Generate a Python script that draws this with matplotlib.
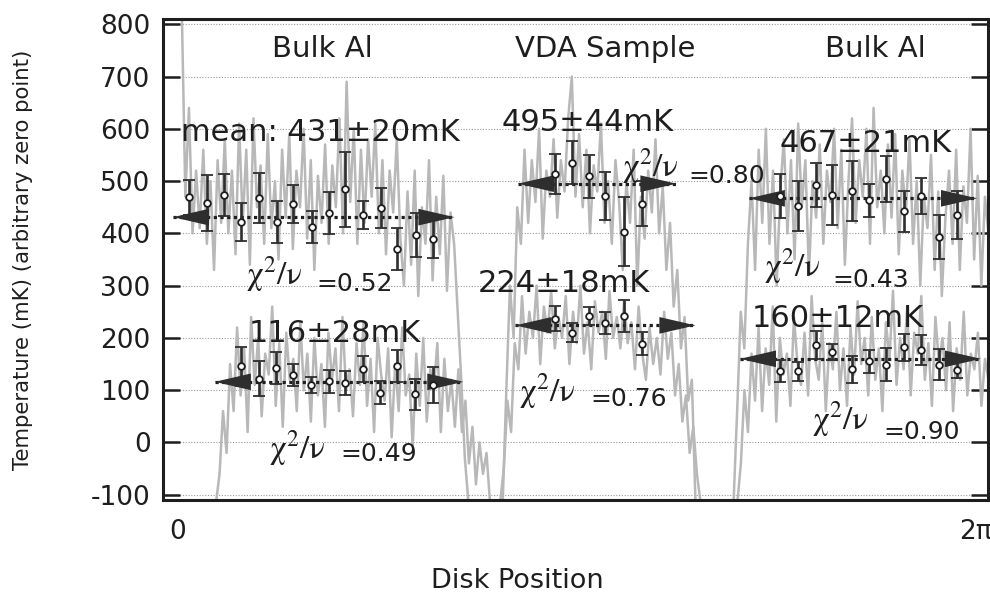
import numpy as np
import matplotlib.pyplot as plt

plt.rcParams['font.family'] = 'DejaVu Sans'
plt.rcParams['mathtext.fontset'] = 'stix'
plt.rcParams['axes.unicode_minus'] = False

# raw thermometer readings (mK) for each pass, sampled evenly over the given span of disk angle
trace_a_span = (0.03, 2.29)
trace_a = [830, 470, 640, 400,
           520, 410, 560, 380, 500, 330, 540, 420, 580, 400, 520,
           360, 610, 420, 560, 340, 620, 450, 530, 380, 590, 410, 500, 350, 560,
           430, 590, 370, 520, 450, 600, 390, 540, 330, 510, 420, 570, 380, 530,
           450, 620, 400, 690, 460, 600, 380, 560,
           420, 580, 470, 610, 400, 540, 360, 520, 440, 580, 390,
           300, 480, 340, 520, 280, 450, 380, 540, 310, 470, 360, 510, 290, 440, 380,
           250, 120, -30, -115]
trace_b_span = (0.30, 2.46)
trace_b = [-115, -60, 60, -20, 150,
           60, 220, 90, 180, 20, 240, 110, 200, 50, 170, 130, 260, 70, 190, 30, 210, 120, 160, 60, 230, 100,
           170, 40, 200, 90, 150, 30, 210, 120, 180, 60, 240, 100, 140, 50, 190, 110, 230, 70, 160, 20, 200, 130,
           80, 180, 10, 150, 60, 220, 90, 130, -10, 170, 70, 200, 40, 140, 100, 190, 20, 160, 60, 120, 30,
           140, 20, 80, -40, 30, -80, 0, -60, -20, -115]
trace_c_span = (2.56, 4.08)
trace_c = [-115, 100, 300, 200, 450, 380,
           560, 420, 540, 460, 600, 390, 520, 470, 580, 430, 540, 480, 620,
           700, 470, 590,
           450, 560, 400, 530, 480, 610, 420, 500, 380, 540, 460,
           330, 500, 420, 560, 300, 470, 390, 520, 440, 580, 400,
           490, 330, 420, 260, 330, 180, 240, 80, 120, -115]
trace_d_span = (2.54, 4.12)
trace_d = [-115, -50, 80, 20, 190, 140,
           280, 170, 250, 200, 300, 150, 260, 210, 290, 180, 240,
           200, 280, 150, 250, 190, 300, 170, 230, 140, 270, 210, 250, 160, 290, 200, 240, 180,
           270, 190, 230, 140, 260, 170, 120, 220, 150, 200, 130, 250,
           160, 210, 90, 150, 40, 90, -20, 30, -60, -115]
trace_e_span = (4.38, 6.39)
trace_e = [-115, 60, 250, 180, 380,
           500, 330, 560, 420, 600, 380, 520, 300, 480, 580, 400, 540, 350, 610,
           450, 540, 320, 500, 430, 570, 380, 520, 460, 600, 410, 560, 340, 500,
           620, 420, 540, 470, 600, 380, 640, 450, 520, 400, 570, 430, 590, 360,
           520, 440, 580, 380, 500, 300, 470, 410, 550, 330, 480, 280, 430, 520,
           380, 560, 330, 490, 420, 600, 350, 510, 300, 470, 400]
trace_f_span = (4.41, 6.39)
trace_f = [-115, -40, 100, 20, 170,
           80, 220, 60, 180, 110, 260, 40, 200, 130, 170, 70, 240, 150, 110,
           210, 90, 280, 160, 120, 230, 60, 190, 140, 250, 100, 180, 70, 220,
           130, 270, 150, 200, 90, 240, 120, 180, 60, 230, 160, 290, 110, 200,
           140, 260, 90, 210, 170, 280, 120, 190, 70, 240, 150, 200, 100, 230,
           60, 180, 120, 250, 90, 170, 140, 210, 70, 160, 120]

# binned averages with error bars
bulk1_hi_x = [0.09, 0.23, 0.36, 0.50, 0.64, 0.78, 0.91, 1.06, 1.19, 1.32, 1.46, 1.60, 1.73, 1.88, 2.01]
bulk1_hi_t = [469, 458, 474, 422, 468, 421, 456, 412, 439, 484, 435, 449, 370, 396, 390]
bulk1_hi_e = [34, 53, 40, 37, 48, 40, 37, 30, 41, 71, 27, 38, 40, 42, 38]

bulk1_lo_x = [0.50, 0.64, 0.77, 0.91, 1.05, 1.19, 1.32, 1.46, 1.59, 1.73, 1.87, 2.01]
bulk1_lo_t = [146, 122, 142, 130, 110, 117, 114, 140, 95, 146, 92, 110]
bulk1_lo_e = [37, 34, 31, 21, 16, 22, 23, 25, 22, 30, 30, 35]

vda_x = [2.97, 3.11, 3.24, 3.37, 3.52, 3.66]
vda_hi_t = [514, 535, 509, 472, 403, 457]
vda_hi_e = [38, 41, 41, 46, 66, 43]
vda_lo_t = [237, 210, 242, 228, 242, 189]
vda_lo_e = [24, 18, 18, 21, 30, 22]

bulk2_x = [4.75, 4.89, 5.03, 5.16, 5.31, 5.45, 5.58, 5.72, 5.86, 6.00, 6.14]
bulk2_hi_t = [471, 453, 492, 473, 481, 463, 504, 442, 471, 393, 435]
bulk2_hi_e = [42, 48, 42, 57, 57, 31, 44, 39, 34, 42, 46]
bulk2_lo_t = [136, 136, 186, 173, 140, 155, 149, 182, 177, 149, 138]
bulk2_lo_e = [21, 18, 27, 16, 26, 22, 32, 26, 29, 30, 15]

# fitted means, their errors, chi^2/nu and the extent of the mean arrows
means = [431, 116, 495, 224, 467, 160]
mean_errs = [20, 28, 44, 18, 21, 12]
chi2 = [0.52, 0.49, 0.80, 0.76, 0.43, 0.90]
arrow_spans = [(-0.04, 2.18), (0.29, 2.25), (2.68, 3.93), (2.66, 4.08), (4.50, 6.30), (4.43, 6.33)]

# label placement: (x, baseline y) for the mean text, the chi part and the "=value" part
mean_pos = [(0.02, 576, 'left'), (1.24, 193, 'center'), (3.23, 595, 'center'),
            (3.04, 287, 'center'), (5.42, 556, 'center'), (5.20, 220, 'center')]
chi_pos = [(0.54, 302), (0.72, -31), (3.50, 509), (2.69, 78), (4.62, 317), (5.00, 25)]
chi_val_pos = [(1.09, 289), (1.28, -36), (4.02, 497), (3.25, 69), (5.16, 298), (5.56, 6)]

regions = ['Bulk Al', 'VDA Sample', 'Bulk Al']
region_x = [1.135, 3.37, 5.50]

ink = '#1e1e1e'
trace_col = '#b8b8b8'

fig = plt.figure(figsize=(9.9, 5.99), dpi=100)
ax = fig.add_axes([163/990, 99/599, 825/990, 481/599])

for span, vals in [(trace_a_span, trace_a), (trace_b_span, trace_b), (trace_c_span, trace_c),
                   (trace_d_span, trace_d), (trace_e_span, trace_e), (trace_f_span, trace_f)]:
    xs = np.linspace(span[0], span[1], len(vals))
    ax.plot(xs, vals, color=trace_col, lw=1.8, zorder=2)

for m, (x0, x1) in zip(means, arrow_spans):
    ax.plot([x0, x1], [m, m], color=ink, lw=2.3, ls=(0, (1, 1.1)), zorder=4)
    for tip, d in [(x0, -1), (x1, 1)]:
        ax.annotate('', xy=(tip, m), xytext=(tip - d*0.4, m),
                    arrowprops=dict(arrowstyle='-|>,head_length=1.3,head_width=0.3',
                                    color='#2e2e2e', lw=0, shrinkA=0, shrinkB=0,
                                    mutation_scale=20), zorder=5)

for xs, ts, es in [(bulk1_hi_x, bulk1_hi_t, bulk1_hi_e), (bulk1_lo_x, bulk1_lo_t, bulk1_lo_e),
                   (vda_x, vda_hi_t, vda_hi_e), (vda_x, vda_lo_t, vda_lo_e),
                   (bulk2_x, bulk2_hi_t, bulk2_hi_e), (bulk2_x, bulk2_lo_t, bulk2_lo_e)]:
    ax.errorbar(xs, ts, yerr=es, fmt='o', ms=4.8, mfc='white', mec=ink, mew=1.3,
                ecolor='#2e2e2e', elinewidth=1.9, capsize=4.0, capthick=1.9, zorder=6)

for i in range(6):
    txt = '%d±%dmK' % (means[i], mean_errs[i])
    if i == 0:
        txt = 'mean: ' + txt
    x, y, ha = mean_pos[i]
    ax.text(x, y, txt, fontsize=22, ha=ha, va='baseline', color=ink, zorder=7)
    cx, cy = chi_pos[i]
    ax.text(cx, cy, r'$\mathrm{\chi}^2/\mathrm{\nu}$', fontsize=24, ha='left', va='baseline',
            color=ink, zorder=7)
    vx, vy = chi_val_pos[i]
    ax.text(vx, vy, '=%.2f' % chi2[i], fontsize=18, ha='left', va='baseline', color=ink, zorder=7)

for name, x in zip(regions, region_x):
    ax.text(x, 738, name, fontsize=21, ha='center', va='baseline', color=ink)

ax.set_xlim(-0.118, 6.386)
ax.set_ylim(-110, 810)
ax.set_yticks(range(-100, 900, 100))
ax.set_xticks([0, 2*np.pi])
ax.set_xticklabels(['0', '2π'])
ax.grid(axis='y', color='#9a9a9a', lw=0.8, ls=(0, (1, 1.5)), zorder=1)
ax.tick_params(axis='y', direction='in', length=12, width=1.8, color=ink,
               labelsize=19, pad=9, right=True, labelcolor=ink)
ax.tick_params(axis='x', length=0, pad=14, labelsize=19, labelcolor=ink)
for s in ax.spines.values():
    s.set_linewidth(2.2)
    s.set_color(ink)

ax.set_ylabel('Temperature (mK) (arbitrary zero point)', fontsize=15.3, color=ink)
ax.yaxis.set_label_coords(-0.157, 0.5)
fig.text(517/990, 1 - 581/599, 'Disk Position', fontsize=19.5, ha='center', va='center', color=ink)

fig.savefig('out.png', dpi=100, facecolor='white')
